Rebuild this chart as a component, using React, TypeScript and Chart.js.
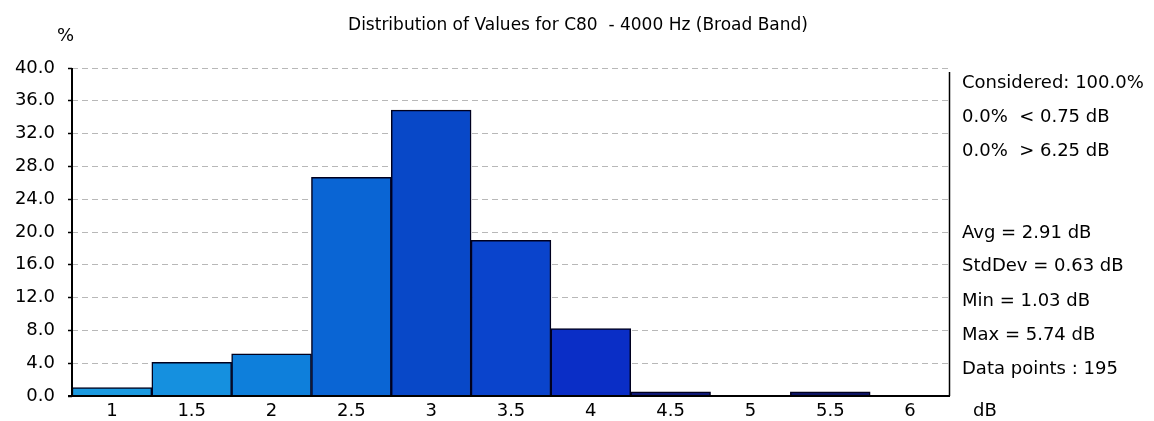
import React, { useEffect, useRef } from "react";
import { Chart, registerables } from "chart.js";

Chart.register(...registerables);

const categories = ["1", "1.5", "2", "2.5", "3", "3.5", "4", "4.5", "5", "5.5", "6"];
const percentValues = [1.03, 4.1, 5.13, 26.67, 34.87, 18.97, 8.21, 0.51, 0, 0.51, 0];
const barColors = [
  "#1b9ae0",
  "#1590df",
  "#0e7fdb",
  "#0a65d4",
  "#0848c8",
  "#0a44cc",
  "#0a2ec6",
  "#101a78",
  "#101a70",
  "#0d1464",
  "#0b1260",
];
const yTicks = [0, 4, 8, 12, 16, 20, 24, 28, 32, 36, 40];
const titleText = "Distribution of Values for C80  - 4000 Hz (Broad Band)";
const statsTop = ["Considered: 100.0%", "0.0%  < 0.75 dB", "0.0%  > 6.25 dB"];
const statsBottom = [
  "Avg = 2.91 dB",
  "StdDev = 0.63 dB",
  "Min = 1.03 dB",
  "Max = 5.74 dB",
  "Data points : 195",
];
const yUnit = "%";
const xUnit = "dB";

const FONT = "'DejaVu Sans', sans-serif";

const decorPlugin = {
  id: "decor",
  afterDraw(chart: any) {
    const { ctx, chartArea } = chart;
    const { left, right, top, bottom } = chartArea;
    ctx.save();
    // axes
    ctx.strokeStyle = "#000";
    ctx.setLineDash([]);
    ctx.lineWidth = 2;
    ctx.beginPath();
    ctx.moveTo(left, top);
    ctx.lineTo(left, bottom + 1);
    ctx.moveTo(left - 4, bottom);
    ctx.lineTo(right, bottom);
    ctx.stroke();
    ctx.lineWidth = 1.5;
    ctx.beginPath();
    ctx.moveTo(right - 0.5, top + 4);
    ctx.lineTo(right - 0.5, bottom);
    ctx.stroke();

    ctx.fillStyle = "#000";
    ctx.textBaseline = "alphabetic";
    // title
    ctx.font = `17px ${FONT}`;
    ctx.textAlign = "center";
    ctx.fillText(titleText, 578, 30);
    // units
    ctx.textAlign = "left";
    ctx.font = `18px ${FONT}`;
    ctx.fillText(yUnit, 57, 41);
    ctx.fillText(xUnit, 973, 416);
    // stats
    const x = right + 12;
    const topBase = [88, 122, 156];
    statsTop.forEach((s, i) => ctx.fillText(s, x, topBase[i]));
    const botBase = [238, 271, 306, 340, 374];
    statsBottom.forEach((s, i) => ctx.fillText(s, x, botBase[i]));
    ctx.restore();
  },
};

export default function App() {
  const ref = useRef<HTMLCanvasElement>(null);
  useEffect(() => {
    document.body.style.margin = "0";
    const canvas = ref.current!;
    const chart = new Chart(canvas, {
      type: "bar",
      data: {
        labels: categories,
        datasets: [
          {
            data: percentValues,
            backgroundColor: barColors,
            borderColor: "#00001e",
            borderWidth: 1.5,
            barPercentage: 1,
            categoryPercentage: 1,
          },
        ],
      },
      options: {
        animation: false,
        responsive: false,
        maintainAspectRatio: false,
        devicePixelRatio: 1,
        layout: { padding: { left: 0, right: 204, top: 68, bottom: 0 } },
        plugins: {
          legend: { display: false },
          title: { display: false },
          tooltip: { enabled: false },
        },
        scales: {
          x: {
            type: "category",
            offset: true,
            grid: { display: false },
            border: { display: false },
            ticks: {
              color: "#000",
              font: { family: FONT, size: 18 },
              padding: -3,
              maxRotation: 0,
              autoSkip: false,
            },
            afterFit(scale: any) {
              scale.height = 25;
            },
          },
          y: {
            min: 0,
            max: 40,
            afterBuildTicks(scale: any) {
              scale.ticks = yTicks.map((v) => ({ value: v }));
            },
            grid: {
              color: "#b8b8b8",
              lineWidth: 1,
              tickLength: 4,
              tickColor: "#000",
              tickWidth: 1.5,
              tickBorderDash: [],
            },
            border: { display: false, dash: [6, 4] },
            ticks: {
              color: "#000",
              font: { family: FONT, size: 18 },
              padding: 13,
              callback: (v: any) => Number(v).toFixed(1),
            },
            afterFit(scale: any) {
              scale.width = 72;
            },
          },
        },
      },
      plugins: [decorPlugin],
    });
    return () => chart.destroy();
  }, []);
  return (
    <div style={{ width: 1154, height: 421, background: "#fff" }}>
      <canvas ref={ref} width={1154} height={421} style={{ display: "block" }} />
    </div>
  );
}
